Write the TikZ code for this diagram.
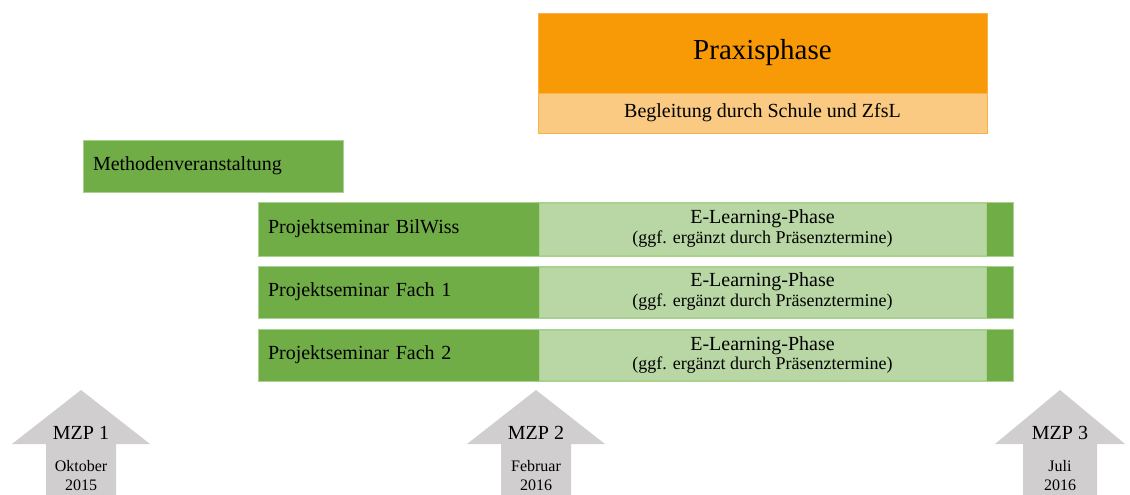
\documentclass[tikz,border=0pt]{standalone}
\usepackage{fontspec}
\setmainfont{Liberation Serif}
\definecolor{praxisorange}{HTML}{F89A06}
\definecolor{praxislight}{HTML}{FAC982}
\definecolor{praxisedge}{HTML}{FBB14A}
\definecolor{darkgreen}{HTML}{70AD47}
\definecolor{lightgreen}{HTML}{B8D7A4}
\definecolor{greenedge}{HTML}{A9D18E}
\definecolor{mzpgray}{HTML}{D0CECE}
\begin{document}
\begin{tikzpicture}[x=1pt,y=-1pt,
  orangebox/.style={rectangle, inner sep=0pt, fill=praxisorange, draw=praxisedge, line width=0.8pt},
  lightorange/.style={rectangle, inner sep=0pt, fill=praxislight, draw=praxisedge, line width=0.8pt},
  greenbar/.style={rectangle, inner ysep=0pt, inner xsep=10pt, fill=darkgreen, draw=greenedge, line width=0.6pt,
    align=left, font=\fontsize{20}{22}\selectfont},
  elearn/.style={rectangle, inner sep=0pt, fill=lightgreen, draw=greenedge, line width=0.6pt,
    minimum width=447pt, align=center, font=\fontsize{20}{21}\selectfont},
  mzparrow/.style={fill=mzpgray},
  mzplabel/.style={font=\fontsize{20}{22}\selectfont, inner sep=0pt},
  datelabel/.style={font=\fontsize{16}{19}\selectfont, align=center, inner sep=0pt}]
\useasboundingbox (0,0) rectangle (1130,495);

% Praxisphase with its accompanying strip
\node[orangebox, minimum width=449pt, minimum height=80pt, font=\fontsize{29}{32}\selectfont]
  (praxis) at (762.5,53) {Praxisphase};
\node[lightorange, minimum width=449pt, minimum height=40pt, font=\fontsize{20}{22}\selectfont]
  (begleitung) at (762.5,113) {Begleitung durch Schule und ZfsL};

% Method course
\node[greenbar, text width=240pt, minimum height=52pt] (methoden) at (213,166) {Methodenveranstaltung};

% Project seminars with their e-learning phases
\node[greenbar, text width=735pt, minimum height=54pt] (bilwiss) at (635.5,229) {Projektseminar BilWiss};
\node[greenbar, text width=735pt, minimum height=52pt] (fach1) at (635.5,292) {Projektseminar Fach 1};
\node[greenbar, text width=735pt, minimum height=52pt] (fach2) at (635.5,355) {Projektseminar Fach 2};

\node[elearn, minimum height=52pt] (el1) at (762.5,229)
  {E-Learning-Phase\\[-1pt]{\fontsize{18}{20}\selectfont (ggf. ergänzt durch Präsenztermine)}};
\node[elearn, minimum height=50pt] (el2) at (762.5,292)
  {E-Learning-Phase\\[-1pt]{\fontsize{18}{20}\selectfont (ggf. ergänzt durch Präsenztermine)}};
\node[elearn, minimum height=50pt] (el3) at (762.5,355)
  {E-Learning-Phase\\[-1pt]{\fontsize{18}{20}\selectfont (ggf. ergänzt durch Präsenztermine)}};

% Measurement points (MZP) as upward arrows: centre, head half-width, shaft half-width
\foreach \cx/\hw/\sw/\num/\month/\year in {81/69/35/1/Oktober/2015, 536/69/35/2/Februar/2016, 1060/65/37/3/Juli/2016}{
  \fill[mzparrow] (\cx,390) -- (\cx+\hw,444) -- (\cx+\sw,444) -- (\cx+\sw,495)
    -- (\cx-\sw,495) -- (\cx-\sw,444) -- (\cx-\hw,444) -- cycle;
  \node[mzplabel] (mzp\num) at (\cx,433) {MZP \num};
  \node[datelabel] (date\num) at (\cx,476) {\month\\\year};
}
\end{tikzpicture}
\end{document}
